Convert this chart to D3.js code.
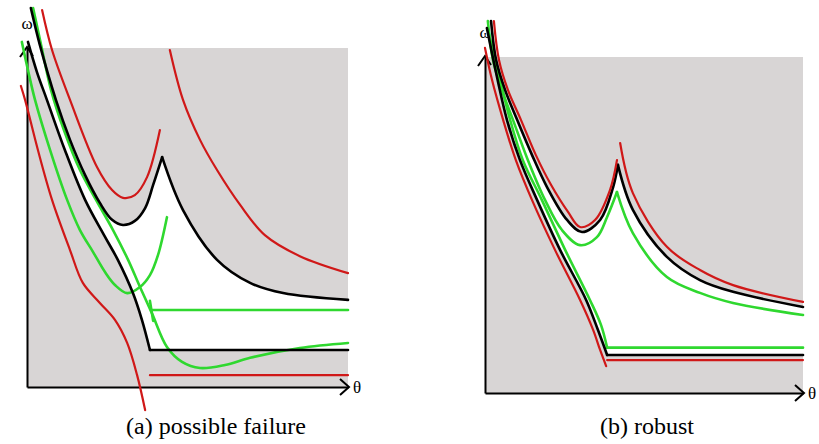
<!DOCTYPE html>
<html>
<head>
<meta charset="utf-8">
<script src="https://cdn.jsdelivr.net/npm/d3@7"></script>
<style>
body { margin: 0; background: #fff; }
svg { display: block; }
.serif { font-family: 'Liberation Serif', 'Times New Roman', 'DejaVu Serif', serif; }
</style>
</head>
<body>
<div id="chart"></div>
<script>
// values are in axis units: theta on x, omega on y, 0..100 = the grey box

// (a) possible failure
var a_black_left = [[1.2,111.8],[4.0,100.9],[9.0,84.7],[13.4,72.9],[18.1,62.5],[22.7,54.3],[26.5,49.3],[29.9,47.8],[33.6,49.0],[36.8,52.8],[39.3,59.6],[42.1,67.8]];
var a_black_right = [[42.1,67.8],[48.6,52.2],[59.2,37.5],[69.5,30.7],[79.8,27.7],[100,25.7]];
var a_black_low = [[0.3,101.8],[3.1,92.9],[6.2,84.7],[11.8,69.9],[18.1,55.2],[24.0,44.8],[28.3,37.5],[33.0,27.7],[35.8,19.8],[38.3,10.9]];
var a_black_floor = [[38.3,10.9],[100,10.9]];
var a_red_up = [[4.7,111.2],[7.8,99.4],[13.4,84.7],[21.8,64.9],[26.5,58.1],[29.9,55.8],[33.6,56.6],[37.4,61.9],[41.4,75.8]];
var a_red_right = [[44.5,99.4],[48.6,84.7],[53.9,72.9],[59.2,64.0],[66.4,53.7],[74.1,44.8],[85.0,38.6],[100,33.6]];
var a_red_low = [[-1.9,88.8],[-0.6,84.7],[3.4,69.9],[7.8,55.2],[13.4,40.4],[17.4,30.7],[22.7,24.8],[27.4,19.8],[31.2,13.0],[34.3,3.5],[36.8,-6.8]];
var a_red_floor = [[38.3,3.5],[100,3.5]];
var a_green_up = [[1.9,111.8],[4.4,100.9],[7.5,87.6],[11.5,75.8],[16.5,64.0],[21.5,55.2],[26.8,46.3],[31.5,37.5],[35.2,29.5],[38.9,21.8],[43.6,11.8],[48.3,7.4],[53.9,5.6],[61.7,6.5],[69.5,8.6],[85.0,11.5],[100,13.0]];
var a_green_low = [[-1.6,101.8],[0.3,93.5],[2.5,84.7],[7.2,69.9],[12.5,55.2],[16.5,46.3],[20.6,39.8],[24.3,33.9],[27.4,30.1],[31.2,27.7],[35.2,29.5],[38.3,33.0],[40.8,38.9],[43.6,50.1]];
var a_green_floor = [[38.9,22.7],[100,22.7]];
var a_green_tick = [[38.3,25.4],[39.3,19.5]];

// (b) robust
var b_black_left = [[1.9,110.7],[3.5,99.1],[6.3,90.2],[10.1,81.3],[14.8,70.8],[19.5,61.3],[25.8,51.5],[30.5,47.9],[36.2,51.5],[40.3,61.3],[41.8,67.9]];
var b_black_right = [[41.8,67.9],[46.5,54.5],[57.2,40.5],[67.6,33.6],[78.0,30.1],[100,25.6]];
var b_black_low = [[0.6,108.6],[3.1,97.0],[6.9,81.3],[11.0,69.3],[16.4,57.4],[23.6,42.6],[31.8,27.7],[35.5,18.8],[38.4,11.3]];
var b_black_floor = [[38.4,11.3],[100,11.3]];
var b_red_up = [[2.8,110.7],[4.4,99.1],[7.2,90.2],[11.3,81.3],[16.0,70.8],[20.8,61.9],[26.1,53.9],[29.9,49.4],[34.6,51.5],[39.3,60.4],[41.5,69.3]];
var b_red_right = [[42.5,74.4],[46.5,59.5],[57.2,43.5],[67.6,36.6],[78.0,32.1],[100,27.1]];
var b_red_low = [[0,102.7],[2.2,93.2],[5.7,81.3],[9.7,69.3],[14.8,57.4],[22.0,42.6],[29.9,27.7],[34.0,18.8],[36.2,12.8],[38.1,8.0]];
var b_red_floor = [[38.4,9.8],[100,9.8]];
var b_green_up = [[0.9,110.7],[2.5,99.1],[5.3,90.2],[8.8,81.3],[13.5,69.3],[18.9,57.4],[24.2,48.5],[29.9,44.0],[35.2,46.4],[38.4,52.4],[41.5,59.8]];
var b_green_right = [[41.5,59.8],[46.5,47.6],[57.2,34.5],[67.6,29.8],[78.0,26.8],[100,23.2]];
var b_green_low = [[0.9,108.0],[3.8,97.0],[7.9,81.3],[11.9,69.3],[17.9,57.4],[25.2,42.6],[33.0,27.7],[36.5,20.2],[38.4,13.5]];
var b_green_floor = [[38.4,13.5],[100,13.5]];

var captions = ["(a) possible failure", "(b) robust"];

var RED = "#d01818", GREEN = "#2fd82f", BLACK = "#000";

var svg = d3.select("#chart").append("svg")
  .attr("width", 819)
  .attr("height", 444);

var xa = d3.scaleLinear().domain([0, 100]).range([27, 348]);
var ya = d3.scaleLinear().domain([0, 100]).range([387, 48]);
var xb = d3.scaleLinear().domain([0, 100]).range([485, 803]);
var yb = d3.scaleLinear().domain([0, 100]).range([393, 57]);

drawPanel(xa, ya, {
  greens: [a_green_low, a_green_up, a_green_floor, a_green_tick],
  blacks: [a_black_low, a_black_floor, a_black_left, a_black_right],
  reds: [a_red_low, a_red_floor, a_red_up, a_red_right]
}, captions[0], 216);

drawPanel(xb, yb, {
  greens: [b_green_low, b_green_floor, b_green_up, b_green_right],
  blacks: [b_black_low, b_black_floor, b_black_left, b_black_right],
  reds: [b_red_low, b_red_floor, b_red_up, b_red_right]
}, captions[1], 647);

function samplePath(node, n) {
  var len = node.getTotalLength();
  var pts = [];
  for (var i = 0; i <= n; i++) {
    var p = node.getPointAtLength(len * i / n);
    pts.push([p.x, p.y]);
  }
  return pts;
}

function drawPanel(x, y, set, caption, cx) {
  var g = svg.append("g");
  var line = d3.line()
    .x(function (d) { return x(d[0]); })
    .y(function (d) { return y(d[1]); })
    .curve(d3.curveCatmullRom.alpha(0.5));

  g.append("rect")
    .attr("x", x(0))
    .attr("y", y(100))
    .attr("width", x(100) - x(0))
    .attr("height", y(0) - y(100))
    .attr("fill", "#d8d5d5");

  var fillLayer = g.append("g");

  // labels sit under the curves
  g.append("text")
    .attr("class", "serif")
    .attr("x", x(0))
    .attr("y", y(100) - 19)
    .attr("text-anchor", "middle")
    .style("font-size", "17px")
    .text("ω");
  g.append("text")
    .attr("class", "serif")
    .attr("x", x(100) + 5)
    .attr("y", y(0) + 6)
    .style("font-size", "17px")
    .text("θ");

  g.append("g")
    .attr("transform", "translate(0," + y(0) + ")")
    .call(d3.axisBottom(x).tickValues([]).tickSizeOuter(0));
  g.append("g")
    .attr("transform", "translate(" + x(0) + ",0)")
    .call(d3.axisLeft(y).tickValues([]).tickSizeOuter(0));
  g.selectAll(".domain").attr("stroke", "#000").attr("stroke-width", 2);

  // arrow heads
  g.append("path")
    .attr("d", "M" + (x(100) - 8) + "," + (y(0) - 8) + "L" + (x(100) + 1) + "," + y(0) + "L" + (x(100) - 8) + "," + (y(0) + 8))
    .attr("fill", "none").attr("stroke", "#000").attr("stroke-width", 2);
  g.append("path")
    .attr("d", "M" + (x(0) - 7) + "," + (y(100) + 9) + "L" + x(0) + "," + (y(100) - 1) + "L" + (x(0) + 6) + "," + (y(100) + 8))
    .attr("fill", "none").attr("stroke", "#000").attr("stroke-width", 2);

  function draw(list, color, w) {
    return list.map(function (pts) {
      return g.append("path")
        .attr("d", line(pts))
        .attr("fill", "none")
        .attr("stroke", color)
        .attr("stroke-width", w)
        .attr("stroke-linecap", "round")
        .node();
    });
  }

  draw(set.greens, GREEN, 2.6);
  var bl = draw(set.blacks, BLACK, 2.6);
  draw(set.reds, RED, 2.2);

  // white feasible region between the two black curves
  var poly = samplePath(bl[0], 120)
    .concat(samplePath(bl[1], 4))
    .concat(samplePath(bl[3], 120).reverse())
    .concat(samplePath(bl[2], 160).reverse());
  fillLayer.append("path")
    .attr("d", "M" + poly.join("L") + "Z")
    .attr("fill", "#fff");

  svg.append("text")
    .attr("class", "serif")
    .attr("x", cx)
    .attr("y", 434)
    .attr("text-anchor", "middle")
    .style("font-size", "24px")
    .text(caption);
}
</script>
</body>
</html>
